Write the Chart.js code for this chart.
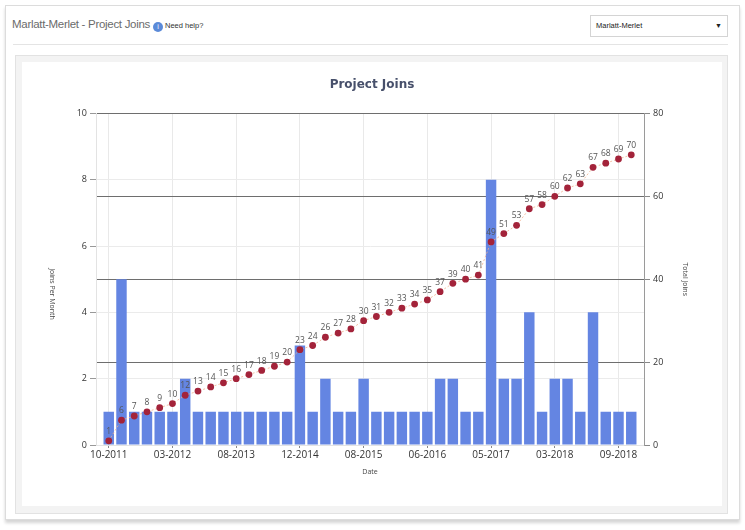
<!DOCTYPE html>
<html>
<head>
<meta charset="utf-8">
<script src="https://cdn.jsdelivr.net/npm/chart.js@4.4.1/dist/chart.umd.min.js"></script>
<style>
body{margin:0;background:#fff;font-family:"Liberation Sans",Arial,sans-serif;}
#page{position:absolute;left:5px;top:5px;width:733px;height:513px;border:1px solid #dcdcdc;background:#fff;box-shadow:0 3px 3px #d6d6d6;}
#head{position:absolute;left:12px;top:18px;font-size:11.5px;color:#6b6b6b;letter-spacing:-0.3px;}
#info{display:inline-block;width:10px;height:10px;border-radius:50%;background:#5b8ad8;color:#fff;font-size:7px;line-height:10px;text-align:center;vertical-align:-1px;margin-left:3px;}
#help{font-size:7.5px;color:#333;letter-spacing:0;margin-left:2px;}
#sel{position:absolute;left:590px;top:15px;width:136px;height:20px;border:1px solid #d4d4d4;font-size:7.5px;color:#222;line-height:20px;}
#sel span{position:absolute;left:5px;}
#sel b{position:absolute;right:5px;font-size:7px;}
#rule{position:absolute;left:13px;top:44px;width:715px;height:1px;background:#e4e4e4;}
#panel{position:absolute;left:15px;top:55px;width:711px;height:457px;background:#f3f3f3;border:1px solid #e2e2e2;}
#box{position:absolute;left:22px;top:62px;width:700px;height:444px;background:#fff;}
</style>
</head>
<body>
<div id="page"></div>
<div id="head">Marlatt-Merlet - Project Joins<span id="info">i</span><span id="help">Need help?</span></div>
<div id="sel"><span>Marlatt-Merlet</span><b>&#9660;</b></div>
<div id="rule"></div>
<div id="panel"></div>
<div id="box"><canvas id="joinsChart"></canvas></div>
<script>
// DATA
const months = [
"10-2011","11-2011","12-2011","01-2012","02-2012","03-2012",
"05-2012","09-2012","12-2012","04-2013","08-2013",
"11-2013","02-2014","05-2014","09-2014","12-2014",
"01-2015","03-2015","04-2015","06-2015","08-2015",
"09-2015","11-2015","01-2016","03-2016","06-2016",
"08-2016","10-2016","12-2016","02-2017","05-2017",
"07-2017","09-2017","11-2017","01-2018","03-2018",
"04-2018","05-2018","06-2018","08-2018","09-2018",
"10-2018"
];

const joinsPerMonth = [
1,5,1,1,1,1,2,1,1,1,1,1,1,1,1,3,1,2,1,1,2,
1,1,1,1,1,2,2,1,1,8,2,2,4,1,2,2,1,4,1,1,1
];

const totalJoins = [
1,6,7,8,9,10,12,13,14,15,16,17,18,19,20,23,24,26,27,28,30,
31,32,33,34,35,37,39,40,41,49,51,53,57,58,60,62,63,67,68,69,70
];

const shownTicks = [0,5,10,15,20,25,30,35,40];

// PLUGINS
const pointLabels = {
id: "pointLabels",
afterDatasetsDraw(chart){
const ctx = chart.ctx;
const meta = chart.getDatasetMeta(1);
ctx.save();
ctx.font = "8.5px 'Open Sans'";
ctx.fillStyle = "#555";
ctx.textAlign = "center";
ctx.textBaseline = "bottom";
meta.data.forEach((pt,i)=>{
ctx.fillText(totalJoins[i], pt.x, pt.y-5);
});
ctx.restore();
}
};

const leftTitle = {
id: "leftTitle",
afterDraw(chart){
const ctx = chart.ctx;
ctx.save();
ctx.translate(30, 232);
ctx.rotate(Math.PI/2);
ctx.font = "7px 'Open Sans'";
ctx.fillStyle = "#444";
ctx.textAlign = "center";
ctx.textBaseline = "middle";
ctx.fillText("Joins Per Month", 0, 0);
ctx.restore();
}
};

// CHART
const ctx = document.getElementById("joinsChart");

new Chart(ctx, {
type: "bar",
data: {
datasets: [
{
type: "bar",
label: "Joins Per Month",
data: joinsPerMonth.map((v,i)=>({x:i, y:v})),
backgroundColor: "#6485e2",
barPercentage: 0.82,
categoryPercentage: 1,
yAxisID: "y",
order: 2
},
{
type: "line",
label: "Total Joins",
data: totalJoins.map((v,i)=>({x:i, y:v})),
borderColor: "rgba(240,175,140,0.8)",
borderWidth: 1,
borderDash: [2,2],
pointRadius: 3.4,
pointBackgroundColor: "#a3233a",
pointBorderWidth: 0,
yAxisID: "y1",
order: 1
}
]
},
options: {
responsive: true,
maintainAspectRatio: false,
animation: false,
layout: {padding: 0},
plugins: {
legend: {display: false},
tooltip: {enabled: false},
title: {
display: true,
text: "Project Joins",
color: "#47506b",
font: {family: "'DejaVu Sans'", size: 12, weight: "bold"},
padding: {top: 16, bottom: 21}
}
},
scales: {
x: {
type: "linear",
min: -1,
max: 42,
offset: false,
afterBuildTicks: s => { s.ticks = shownTicks.map(v=>({value:v})); },
afterFit: s => { s.height = 61; },
ticks: {
callback: v => months[v],
color: "#333",
font: {family: "'Open Sans'", size: 10},
padding: 1,
maxRotation: 0,
autoSkip: false
},
grid: {color: "#e9e9e9", tickColor: "#888", tickLength: 3, offset: false},
border: {color: "#e3e3e3"},
title: {display: true, text: "Date", color: "#444", font: {family: "'Open Sans'", size: 7}, padding: 30}
},
y: {
position: "left",
min: 0,
max: 10,
afterFit: s => { s.width = 74; },
ticks: {stepSize: 2, color: "#333", font: {family: "'Open Sans'", size: 9}, padding: 3},
grid: {color: "#ebebeb", tickColor: "#999", tickLength: 6},
border: {color: "#e3e3e3"}
},
y1: {
position: "right",
min: 0,
max: 80,
afterFit: s => { s.width = 78; },
ticks: {stepSize: 20, color: "#333", font: {family: "'Open Sans'", size: 9}, padding: 3},
grid: {
color: c => c.tick.value === 0 ? "rgba(0,0,0,0)" : "#6e6e6e",
tickColor: "#888",
tickLength: 6
},
border: {color: "#9a9a9a"},
title: {display: true, text: "Total Joins", color: "#444", font: {family: "'Open Sans'", size: 7}, padding: 33}
}
}
},
plugins: [pointLabels, leftTitle]
});
</script>
</body>
</html>
